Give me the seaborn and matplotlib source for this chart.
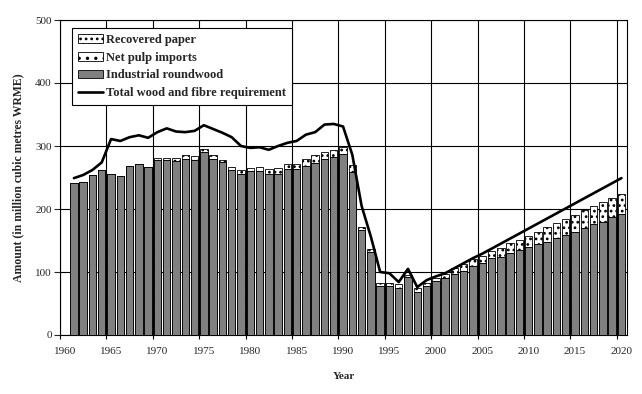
import matplotlib
matplotlib.use("Agg")
import matplotlib.pyplot as plt
import seaborn as sns
import pandas as pd
import numpy as np
from matplotlib.patches import Patch
from matplotlib.lines import Line2D

years = list(range(1961, 2021))

industrial_roundwood = [242, 243, 254, 262, 256, 252, 268, 271, 267,
                        277, 277, 276, 280, 278, 290, 280, 274, 262, 256,
                        260, 260, 255, 256, 264, 263, 269, 273, 280, 282,
                        288, 259, 166, 131, 78, 78, 75, 92, 69, 78,
                        86, 90, 97, 102, 109, 114, 122, 124, 130, 135,
                        139.5, 144, 148, 154, 159, 164, 170, 176, 180, 187,
                        192]

net_pulp_imports = [0] * 60

recovered_paper = [0, 0, 0, 0, 0, 0, 0, 0, 0,
                   4, 4, 5, 5, 6, 5, 5, 4, 5, 6,
                   5, 7, 9, 9, 8, 8, 10, 13, 10, 11,
                   11, 11, 5, 6, 5, 5, 6, 4, 5, 5,
                   5, 7, 9, 10, 11, 11, 11, 14, 16, 16,
                   18, 20, 24, 24, 25, 27, 28, 28, 31, 30,
                   32]

total_requirement = [249, 254, 262, 274, 311, 308, 314, 317, 313,
                     322, 328, 323, 322, 324, 333, 327, 321, 314, 300,
                     297, 298, 294, 300, 305, 308, 318, 322, 334, 335,
                     331, 286, 205, 156, 100, 98, 84, 105, 76, 87,
                     93, 98, 106, 114, 122, 129, 137, 145, 153, 161,
                     169, 177, 185, 193, 201, 209, 217, 225, 233, 241,
                     249]

label_years = list(range(1960, 2021, 5))

df = pd.DataFrame({
    "year": years,
    "rw": industrial_roundwood,
    "pulp": net_pulp_imports,
    "rec": recovered_paper,
    "total": total_requirement,
})
df["pos"] = df["year"] + 0.5
df["s2"] = df["rw"] + df["pulp"]
df["s3"] = df["s2"] + df["rec"]

sns.set_style("white")
plt.rcParams["font.family"] = ["Liberation Serif", "DejaVu Serif"]
plt.rcParams["hatch.linewidth"] = 1.2

fig = plt.figure(figsize=(6.42, 3.94), dpi=100)
ax = fig.add_axes([60 / 642, 1 - 335 / 394, 567 / 642, 315 / 394])

common = dict(x="pos", orient="x", native_scale=True, errorbar=None,
              width=0.8, edgecolor="black", linewidth=0.6, saturation=1,
              ax=ax, zorder=3)
sns.barplot(data=df, y="s3", color="white", hatch="...", **common)
sns.barplot(data=df, y="s2", color="white", hatch="..", **common)
sns.barplot(data=df, y="rw", color="#808080", **common)
sns.lineplot(data=df, x="pos", y="total", color="black", linewidth=1.9,
             ax=ax, zorder=4)

ax.set_xlim(1960, 2021.1)
ax.set_ylim(0, 500)
ax.set_xticks(label_years)
ax.set_xticklabels([])
ax.set_xticks([y + 0.5 for y in label_years], minor=True)
ax.set_xticklabels([str(y) for y in label_years], minor=True, fontsize=8)
ax.tick_params(axis="x", which="minor", length=0, pad=9)
ax.tick_params(axis="x", which="major", length=3, direction="out",
               bottom=True, width=0.8, color="black")
ax.set_yticks(range(0, 501, 100))
ax.tick_params(axis="y", length=4, direction="out", left=True, width=0.8,
               labelsize=8, pad=2)
ax.grid(True, which="major", color="black", linewidth=0.8)
ax.set_axisbelow(True)
for s in ax.spines.values():
    s.set_color("black")
    s.set_linewidth(0.8)

ax.set_xlabel("Year", fontsize=8, fontweight="bold", labelpad=11)
ax.set_ylabel("Amount (in million cubic metres WRME)", fontsize=8.5,
              fontweight="bold", labelpad=8)

handles = [
    Patch(facecolor="white", edgecolor="black", hatch="...", linewidth=0.6),
    Patch(facecolor="white", edgecolor="black", hatch="..", linewidth=0.6),
    Patch(facecolor="#808080", edgecolor="black", linewidth=0.6),
    Line2D([0], [0], color="black", linewidth=1.9),
]
labels = ["Recovered paper", "Net pulp imports", "Industrial roundwood",
          "Total wood and fibre requirement"]
leg = ax.legend(handles, labels, loc="upper left",
                bbox_to_anchor=(0.021, 0.975), frameon=True, fancybox=False,
                borderaxespad=0, prop={"weight": "bold", "size": 9},
                handlelength=2.0, handleheight=0.7, handletextpad=0.2,
                labelspacing=0.45, borderpad=0.5)
leg.get_frame().set_edgecolor("black")
leg.get_frame().set_linewidth(0.8)
leg.get_frame().set_alpha(1)
leg.set_zorder(10)

fig.savefig("out.png", dpi=100)
